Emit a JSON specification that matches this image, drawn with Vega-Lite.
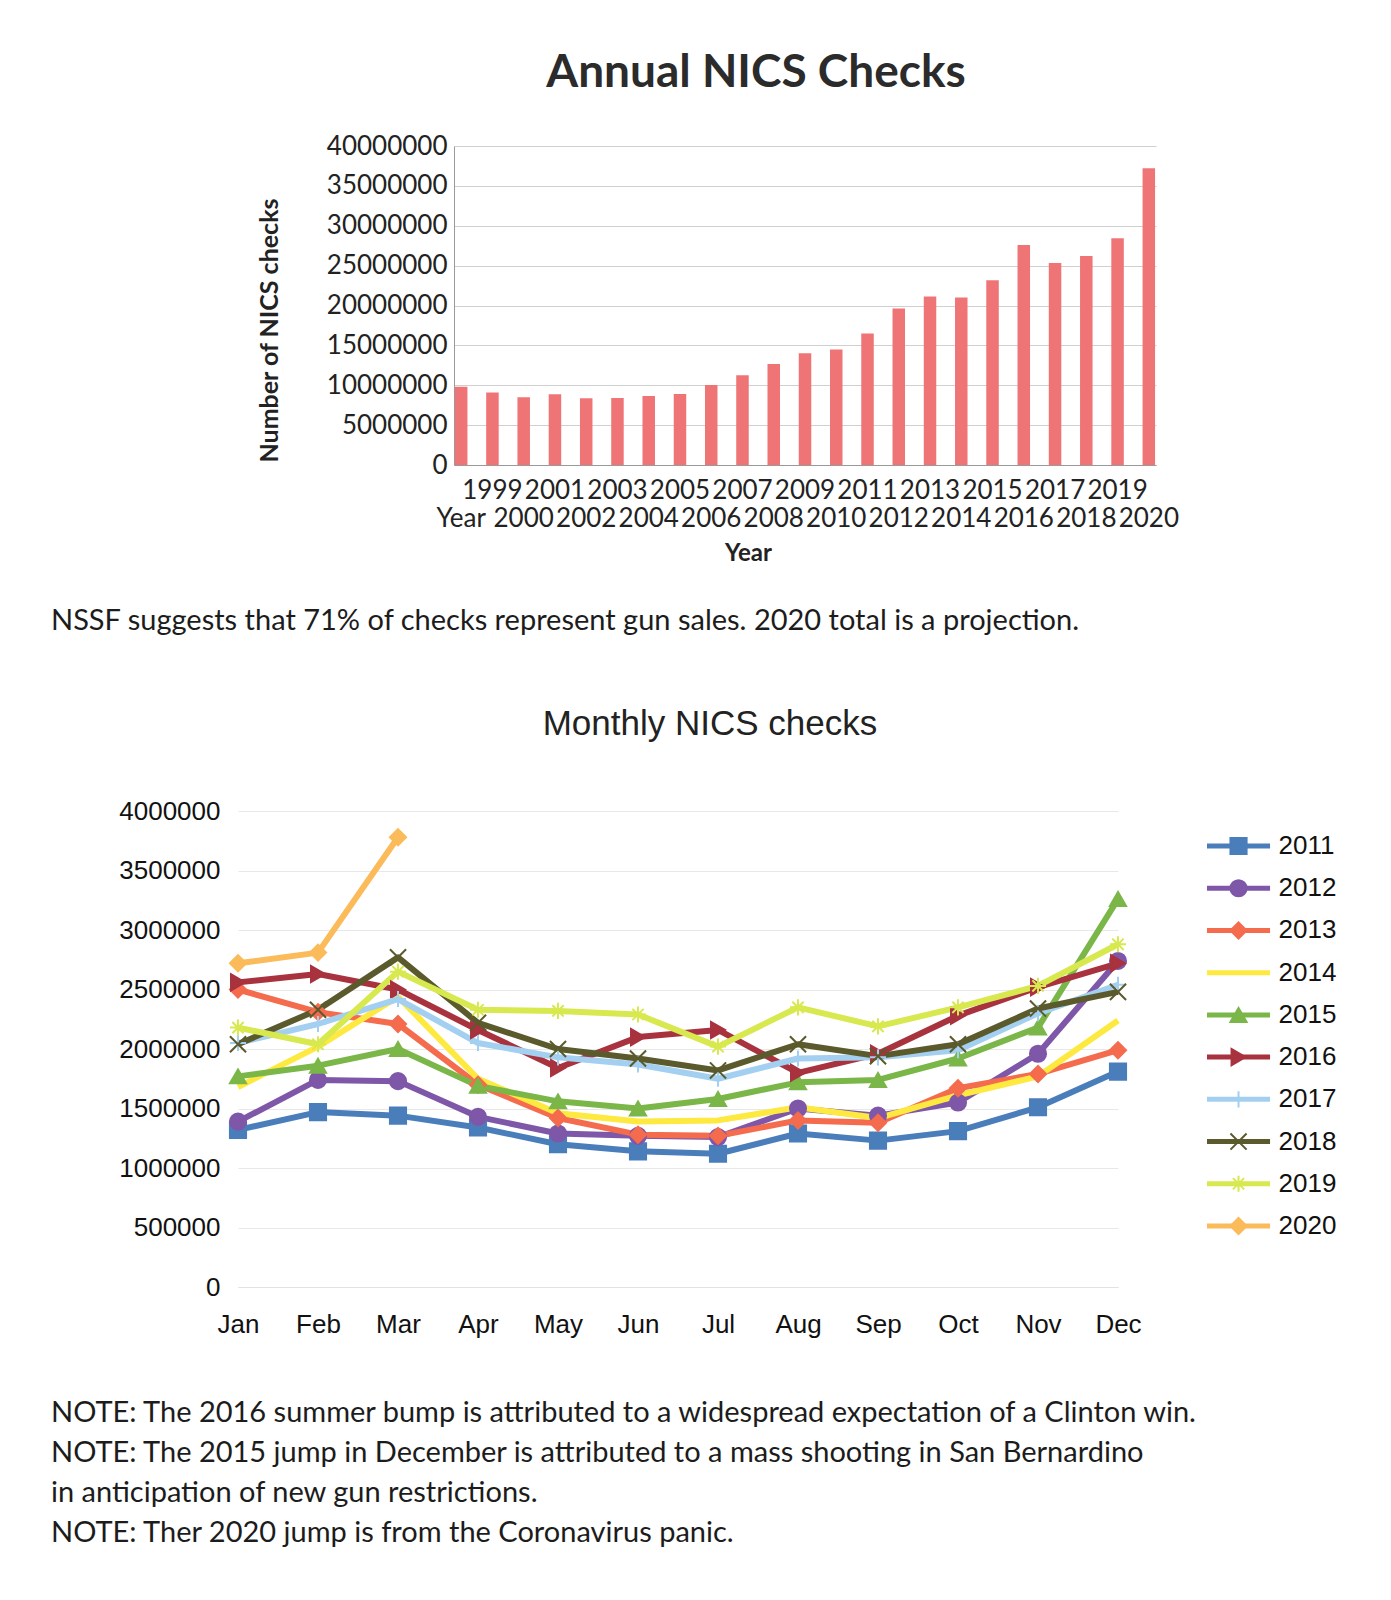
{
  "$schema": "https://vega.github.io/schema/vega-lite/v6.json",
  "background": "white",
  "padding": {"left": 51, "top": 50, "right": 0, "bottom": 0},
  "config": {"view": {"stroke": null}},
  "spacing": 0,
  "vconcat": [
    {
      "spacing": 0,
      "hconcat": [
        {"width": 206, "height": 1, "data": {"values": [{}]}, "mark": {"type": "text"}, "encoding": {"text": {"value": ""}}},
        {
          "width": 702,
          "height": 319,
          "title": {"text": "Annual NICS Checks", "font": "Lato", "fontSize": 46, "fontWeight": "bold", "color": "#2b2b2b", "baseline": "alphabetic", "offset": 0, "dx": -49, "frame": "group", "anchor": "middle"},
          "data": {"values": [
            {"year": "Year", "checks": 9810000},
            {"year": "1999", "checks": 9090000},
            {"year": "2000", "checks": 8500000},
            {"year": "2001", "checks": 8870000},
            {"year": "2002", "checks": 8360000},
            {"year": "2003", "checks": 8400000},
            {"year": "2004", "checks": 8650000},
            {"year": "2005", "checks": 8900000},
            {"year": "2006", "checks": 10030000},
            {"year": "2007", "checks": 11250000},
            {"year": "2008", "checks": 12680000},
            {"year": "2009", "checks": 14020000},
            {"year": "2010", "checks": 14480000},
            {"year": "2011", "checks": 16500000},
            {"year": "2012", "checks": 19610000},
            {"year": "2013", "checks": 21120000},
            {"year": "2014", "checks": 20990000},
            {"year": "2015", "checks": 23170000},
            {"year": "2016", "checks": 27590000},
            {"year": "2017", "checks": 25320000},
            {"year": "2018", "checks": 26200000},
            {"year": "2019", "checks": 28430000},
            {"year": "2020", "checks": 37200000}
          ]},
          "mark": {"type": "bar", "color": "#ef7476"},
          "encoding": {
            "x": {
              "field": "year", "type": "ordinal", "sort": null,
              "scale": {"paddingInner": 0.6, "paddingOuter": 0.03},
              "axis": {
                "title": "Year", "titleFont": "Lato", "titleFontSize": 24, "titleFontWeight": "bold", "titleColor": "#222",
                "titleX": 294, "titlePadding": 10,
                "labelAngle": 0, "labelFont": "Lato", "labelFontSize": 26, "labelColor": "#222",
                "labelOverlap": false, "labelFlush": false,
                "labelPadding": {"condition": {"test": "toNumber(datum.value) % 2 === 1", "value": 12}, "value": 40},
                "ticks": false, "domainColor": "#9a9a9a"
              }
            },
            "y": {
              "field": "checks", "type": "quantitative",
              "scale": {"domain": [0, 40000000]},
              "axis": {
                "title": "Number of NICS checks", "titleFont": "Lato", "titleFontSize": 25, "titleFontWeight": "bold", "titleColor": "#222",
                "titlePadding": 44, "titleY": 184,
                "values": [0, 5000000, 10000000, 15000000, 20000000, 25000000, 30000000, 35000000, 40000000],
                "format": "d", "labelFont": "Lato", "labelFontSize": 26, "labelColor": "#222", "labelPadding": 7,
                "ticks": false, "domainColor": "#9a9a9a", "gridColor": "#d0d0d0"
              }
            }
          }
        }
      ]
    },
    {
      "width": 1100,
      "height": 142,
      "data": {"values": [{"t": "NSSF suggests that 71% of checks represent gun sales. 2020 total is a projection."}]},
      "mark": {"type": "text", "align": "left", "baseline": "middle", "font": "Lato", "fontSize": 29, "color": "#1c1c1c"},
      "encoding": {
        "x": {"datum": 0, "type": "quantitative", "scale": {"domain": [0, 1]}, "axis": null},
        "y": {"datum": 1, "type": "quantitative", "scale": {"domain": [0, 2.536], "nice": false, "zero": false, "reverse": true}, "axis": null},
        "text": {"field": "t"}
      }
    },
    {
      "spacing": 0,
      "hconcat": [
        {"width": 67, "height": 1, "data": {"values": [{}]}, "mark": {"type": "text"}, "encoding": {"text": {"value": ""}}},
        {
          "width": 880,
          "height": 476,
          "title": {"text": "Monthly NICS checks", "font": "Liberation Sans", "fontSize": 35, "fontWeight": "normal", "color": "#222", "baseline": "alphabetic", "offset": 28, "dx": 32, "frame": "group", "anchor": "middle"},
          "data": {"values": [
            {"y": "2011", "m": "Jan", "v": 1320000}, {"y": "2011", "m": "Feb", "v": 1470000}, {"y": "2011", "m": "Mar", "v": 1440000}, {"y": "2011", "m": "Apr", "v": 1340000}, {"y": "2011", "m": "May", "v": 1200000}, {"y": "2011", "m": "Jun", "v": 1140000}, {"y": "2011", "m": "Jul", "v": 1120000}, {"y": "2011", "m": "Aug", "v": 1290000}, {"y": "2011", "m": "Sep", "v": 1230000}, {"y": "2011", "m": "Oct", "v": 1310000}, {"y": "2011", "m": "Nov", "v": 1510000}, {"y": "2011", "m": "Dec", "v": 1810000},
            {"y": "2012", "m": "Jan", "v": 1390000}, {"y": "2012", "m": "Feb", "v": 1740000}, {"y": "2012", "m": "Mar", "v": 1730000}, {"y": "2012", "m": "Apr", "v": 1430000}, {"y": "2012", "m": "May", "v": 1290000}, {"y": "2012", "m": "Jun", "v": 1270000}, {"y": "2012", "m": "Jul", "v": 1260000}, {"y": "2012", "m": "Aug", "v": 1500000}, {"y": "2012", "m": "Sep", "v": 1440000}, {"y": "2012", "m": "Oct", "v": 1550000}, {"y": "2012", "m": "Nov", "v": 1960000}, {"y": "2012", "m": "Dec", "v": 2740000},
            {"y": "2013", "m": "Jan", "v": 2500000}, {"y": "2013", "m": "Feb", "v": 2310000}, {"y": "2013", "m": "Mar", "v": 2210000}, {"y": "2013", "m": "Apr", "v": 1700000}, {"y": "2013", "m": "May", "v": 1420000}, {"y": "2013", "m": "Jun", "v": 1280000}, {"y": "2013", "m": "Jul", "v": 1270000}, {"y": "2013", "m": "Aug", "v": 1400000}, {"y": "2013", "m": "Sep", "v": 1380000}, {"y": "2013", "m": "Oct", "v": 1670000}, {"y": "2013", "m": "Nov", "v": 1790000}, {"y": "2013", "m": "Dec", "v": 1990000},
            {"y": "2014", "m": "Jan", "v": 1680000}, {"y": "2014", "m": "Feb", "v": 2020000}, {"y": "2014", "m": "Mar", "v": 2440000}, {"y": "2014", "m": "Apr", "v": 1750000}, {"y": "2014", "m": "May", "v": 1460000}, {"y": "2014", "m": "Jun", "v": 1390000}, {"y": "2014", "m": "Jul", "v": 1400000}, {"y": "2014", "m": "Aug", "v": 1510000}, {"y": "2014", "m": "Sep", "v": 1420000}, {"y": "2014", "m": "Oct", "v": 1610000}, {"y": "2014", "m": "Nov", "v": 1770000}, {"y": "2014", "m": "Dec", "v": 2240000},
            {"y": "2015", "m": "Jan", "v": 1770000}, {"y": "2015", "m": "Feb", "v": 1860000}, {"y": "2015", "m": "Mar", "v": 2000000}, {"y": "2015", "m": "Apr", "v": 1690000}, {"y": "2015", "m": "May", "v": 1560000}, {"y": "2015", "m": "Jun", "v": 1500000}, {"y": "2015", "m": "Jul", "v": 1580000}, {"y": "2015", "m": "Aug", "v": 1720000}, {"y": "2015", "m": "Sep", "v": 1740000}, {"y": "2015", "m": "Oct", "v": 1920000}, {"y": "2015", "m": "Nov", "v": 2180000}, {"y": "2015", "m": "Dec", "v": 3260000},
            {"y": "2016", "m": "Jan", "v": 2560000}, {"y": "2016", "m": "Feb", "v": 2630000}, {"y": "2016", "m": "Mar", "v": 2500000}, {"y": "2016", "m": "Apr", "v": 2160000}, {"y": "2016", "m": "May", "v": 1840000}, {"y": "2016", "m": "Jun", "v": 2100000}, {"y": "2016", "m": "Jul", "v": 2160000}, {"y": "2016", "m": "Aug", "v": 1800000}, {"y": "2016", "m": "Sep", "v": 1960000}, {"y": "2016", "m": "Oct", "v": 2280000}, {"y": "2016", "m": "Nov", "v": 2520000}, {"y": "2016", "m": "Dec", "v": 2720000},
            {"y": "2017", "m": "Jan", "v": 2050000}, {"y": "2017", "m": "Feb", "v": 2210000}, {"y": "2017", "m": "Mar", "v": 2420000}, {"y": "2017", "m": "Apr", "v": 2050000}, {"y": "2017", "m": "May", "v": 1930000}, {"y": "2017", "m": "Jun", "v": 1870000}, {"y": "2017", "m": "Jul", "v": 1750000}, {"y": "2017", "m": "Aug", "v": 1920000}, {"y": "2017", "m": "Sep", "v": 1930000}, {"y": "2017", "m": "Oct", "v": 1990000}, {"y": "2017", "m": "Nov", "v": 2300000}, {"y": "2017", "m": "Dec", "v": 2540000},
            {"y": "2018", "m": "Jan", "v": 2040000}, {"y": "2018", "m": "Feb", "v": 2330000}, {"y": "2018", "m": "Mar", "v": 2770000}, {"y": "2018", "m": "Apr", "v": 2220000}, {"y": "2018", "m": "May", "v": 2000000}, {"y": "2018", "m": "Jun", "v": 1920000}, {"y": "2018", "m": "Jul", "v": 1820000}, {"y": "2018", "m": "Aug", "v": 2040000}, {"y": "2018", "m": "Sep", "v": 1940000}, {"y": "2018", "m": "Oct", "v": 2040000}, {"y": "2018", "m": "Nov", "v": 2340000}, {"y": "2018", "m": "Dec", "v": 2480000},
            {"y": "2019", "m": "Jan", "v": 2180000}, {"y": "2019", "m": "Feb", "v": 2040000}, {"y": "2019", "m": "Mar", "v": 2650000}, {"y": "2019", "m": "Apr", "v": 2330000}, {"y": "2019", "m": "May", "v": 2320000}, {"y": "2019", "m": "Jun", "v": 2290000}, {"y": "2019", "m": "Jul", "v": 2020000}, {"y": "2019", "m": "Aug", "v": 2350000}, {"y": "2019", "m": "Sep", "v": 2190000}, {"y": "2019", "m": "Oct", "v": 2350000}, {"y": "2019", "m": "Nov", "v": 2530000}, {"y": "2019", "m": "Dec", "v": 2880000},
            {"y": "2020", "m": "Jan", "v": 2720000}, {"y": "2020", "m": "Feb", "v": 2810000}, {"y": "2020", "m": "Mar", "v": 3780000}
          ]},
          "encoding": {
            "x": {
              "field": "m", "type": "nominal",
              "sort": ["Jan", "Feb", "Mar", "Apr", "May", "Jun", "Jul", "Aug", "Sep", "Oct", "Nov", "Dec"],
              "scale": {"type": "point", "padding": 0},
              "axis": {"title": null, "labelAngle": 0, "labelFont": "Liberation Sans", "labelFontSize": 26, "labelColor": "#111", "labelPadding": 24, "ticks": false, "domainColor": "#e2e2e2", "grid": false}
            },
            "y": {
              "field": "v", "type": "quantitative",
              "scale": {"domain": [0, 4000000]},
              "axis": {"title": null, "values": [0, 500000, 1000000, 1500000, 2000000, 2500000, 3000000, 3500000, 4000000], "format": "d", "labelFont": "Liberation Sans", "labelFontSize": 26, "labelColor": "#111", "labelPadding": 18, "ticks": false, "domain": false, "gridColor": "#e8e8e8"}
            }
          },
          "layer": [
            {
              "mark": {"type": "line", "strokeWidth": 6, "strokeJoin": "round"},
              "encoding": {
                "color": {"field": "y", "type": "nominal", "legend": null,
                  "scale": {"domain": ["2011", "2012", "2013", "2014", "2015", "2016", "2017", "2018", "2019", "2020"],
                            "range": ["#4a7ebb", "#7e57a8", "#f46b4e", "#fde93f", "#7ab648", "#a8323e", "#a3d0f0", "#5b5a2c", "#d8e84f", "#fbbb5a"]}}
              }
            },
            {
              "transform": [{"filter": "datum.y !== '2014'"}],
              "mark": {"type": "point", "filled": true, "size": 260, "strokeWidth": 2, "opacity": 1},
              "encoding": {
                "shape": {"field": "y", "type": "nominal", "legend": null,
                  "scale": {"domain": ["2011", "2012", "2013", "2014", "2015", "2016", "2017", "2018", "2019", "2020"],
                            "range": ["square", "circle", "diamond", "circle", "triangle-up", "triangle-right", "M-1,0H1M0,-1V1", "M-1,-1L1,1M-1,1L1,-1", "M-1,0H1M0,-1V1M-0.7,-0.7L0.7,0.7M-0.7,0.7L0.7,-0.7", "diamond"]}},
                "fill": {"field": "y", "type": "nominal", "legend": null,
                  "scale": {"domain": ["2011", "2012", "2013", "2014", "2015", "2016", "2017", "2018", "2019", "2020"],
                            "range": ["#4a7ebb", "#7e57a8", "#f46b4e", "#fde93f", "#7ab648", "#a8323e", "#a3d0f0", "#5b5a2c", "#d8e84f", "#fbbb5a"]}},
                "stroke": {"field": "y", "type": "nominal", "legend": null,
                  "scale": {"domain": ["2011", "2012", "2013", "2014", "2015", "2016", "2017", "2018", "2019", "2020"],
                            "range": ["#4a7ebb", "#7e57a8", "#f46b4e", "#fde93f", "#7ab648", "#a8323e", "#a3d0f0", "#5b5a2c", "#d8e84f", "#fbbb5a"]}}
              }
            }
          ]
        },
        {
          "width": 195,
          "height": 450,
          "data": {"values": [
            {"y": "2011"}, {"y": "2012"}, {"y": "2013"}, {"y": "2014"}, {"y": "2015"},
            {"y": "2016"}, {"y": "2017"}, {"y": "2018"}, {"y": "2019"}, {"y": "2020"}
          ]},
          "encoding": {
            "y": {"field": "y", "type": "ordinal", "sort": null, "scale": {"type": "point", "padding": 0.83}, "axis": null}
          },
          "layer": [
            {
              "mark": {"type": "rule", "strokeWidth": 5},
              "encoding": {
                "x": {"datum": 1, "type": "quantitative", "scale": {"domain": [0, 3]}, "axis": null},
                "x2": {"datum": 1.97},
                "color": {"field": "y", "type": "nominal", "legend": null,
                  "scale": {"domain": ["2011", "2012", "2013", "2014", "2015", "2016", "2017", "2018", "2019", "2020"],
                            "range": ["#4a7ebb", "#7e57a8", "#f46b4e", "#fde93f", "#7ab648", "#a8323e", "#a3d0f0", "#5b5a2c", "#d8e84f", "#fbbb5a"]}}
              }
            },
            {
              "transform": [{"filter": "datum.y !== '2014'"}],
              "mark": {"type": "point", "filled": true, "size": 260, "strokeWidth": 2, "opacity": 1},
              "encoding": {
                "x": {"datum": 1.485, "type": "quantitative"},
                "shape": {"field": "y", "type": "nominal", "legend": null,
                  "scale": {"domain": ["2011", "2012", "2013", "2014", "2015", "2016", "2017", "2018", "2019", "2020"],
                            "range": ["square", "circle", "diamond", "circle", "triangle-up", "triangle-right", "M-1,0H1M0,-1V1", "M-1,-1L1,1M-1,1L1,-1", "M-1,0H1M0,-1V1M-0.7,-0.7L0.7,0.7M-0.7,0.7L0.7,-0.7", "diamond"]}},
                "fill": {"field": "y", "type": "nominal", "legend": null,
                  "scale": {"domain": ["2011", "2012", "2013", "2014", "2015", "2016", "2017", "2018", "2019", "2020"],
                            "range": ["#4a7ebb", "#7e57a8", "#f46b4e", "#fde93f", "#7ab648", "#a8323e", "#a3d0f0", "#5b5a2c", "#d8e84f", "#fbbb5a"]}},
                "stroke": {"field": "y", "type": "nominal", "legend": null,
                  "scale": {"domain": ["2011", "2012", "2013", "2014", "2015", "2016", "2017", "2018", "2019", "2020"],
                            "range": ["#4a7ebb", "#7e57a8", "#f46b4e", "#fde93f", "#7ab648", "#a8323e", "#a3d0f0", "#5b5a2c", "#d8e84f", "#fbbb5a"]}}
              }
            },
            {
              "mark": {"type": "text", "align": "left", "baseline": "middle", "font": "Liberation Sans", "fontSize": 26, "color": "#111"},
              "encoding": {
                "x": {"datum": 2.1, "type": "quantitative"},
                "text": {"field": "y"}
              }
            }
          ]
        }
      ]
    },
    {
      "width": 1250,
      "height": 200,
      "data": {"values": [
        {"n": 1, "t": "NOTE: The 2016 summer bump is attributed to a widespread expectation of a Clinton win."},
        {"n": 2, "t": "NOTE: The 2015 jump in December is attributed to a mass shooting in San Bernardino"},
        {"n": 3, "t": "in anticipation of new gun restrictions."},
        {"n": 4, "t": "NOTE: Ther 2020 jump is from the Coronavirus panic."}
      ]},
      "mark": {"type": "text", "align": "left", "baseline": "middle", "font": "Lato", "fontSize": 29, "color": "#1c1c1c"},
      "encoding": {
        "x": {"datum": 0, "type": "quantitative", "scale": {"domain": [0, 1]}, "axis": null},
        "y": {"field": "n", "type": "quantitative", "scale": {"domain": [-0.9, 4.1], "nice": false, "zero": false, "reverse": true}, "axis": null},
        "text": {"field": "t"}
      }
    }
  ]
}
